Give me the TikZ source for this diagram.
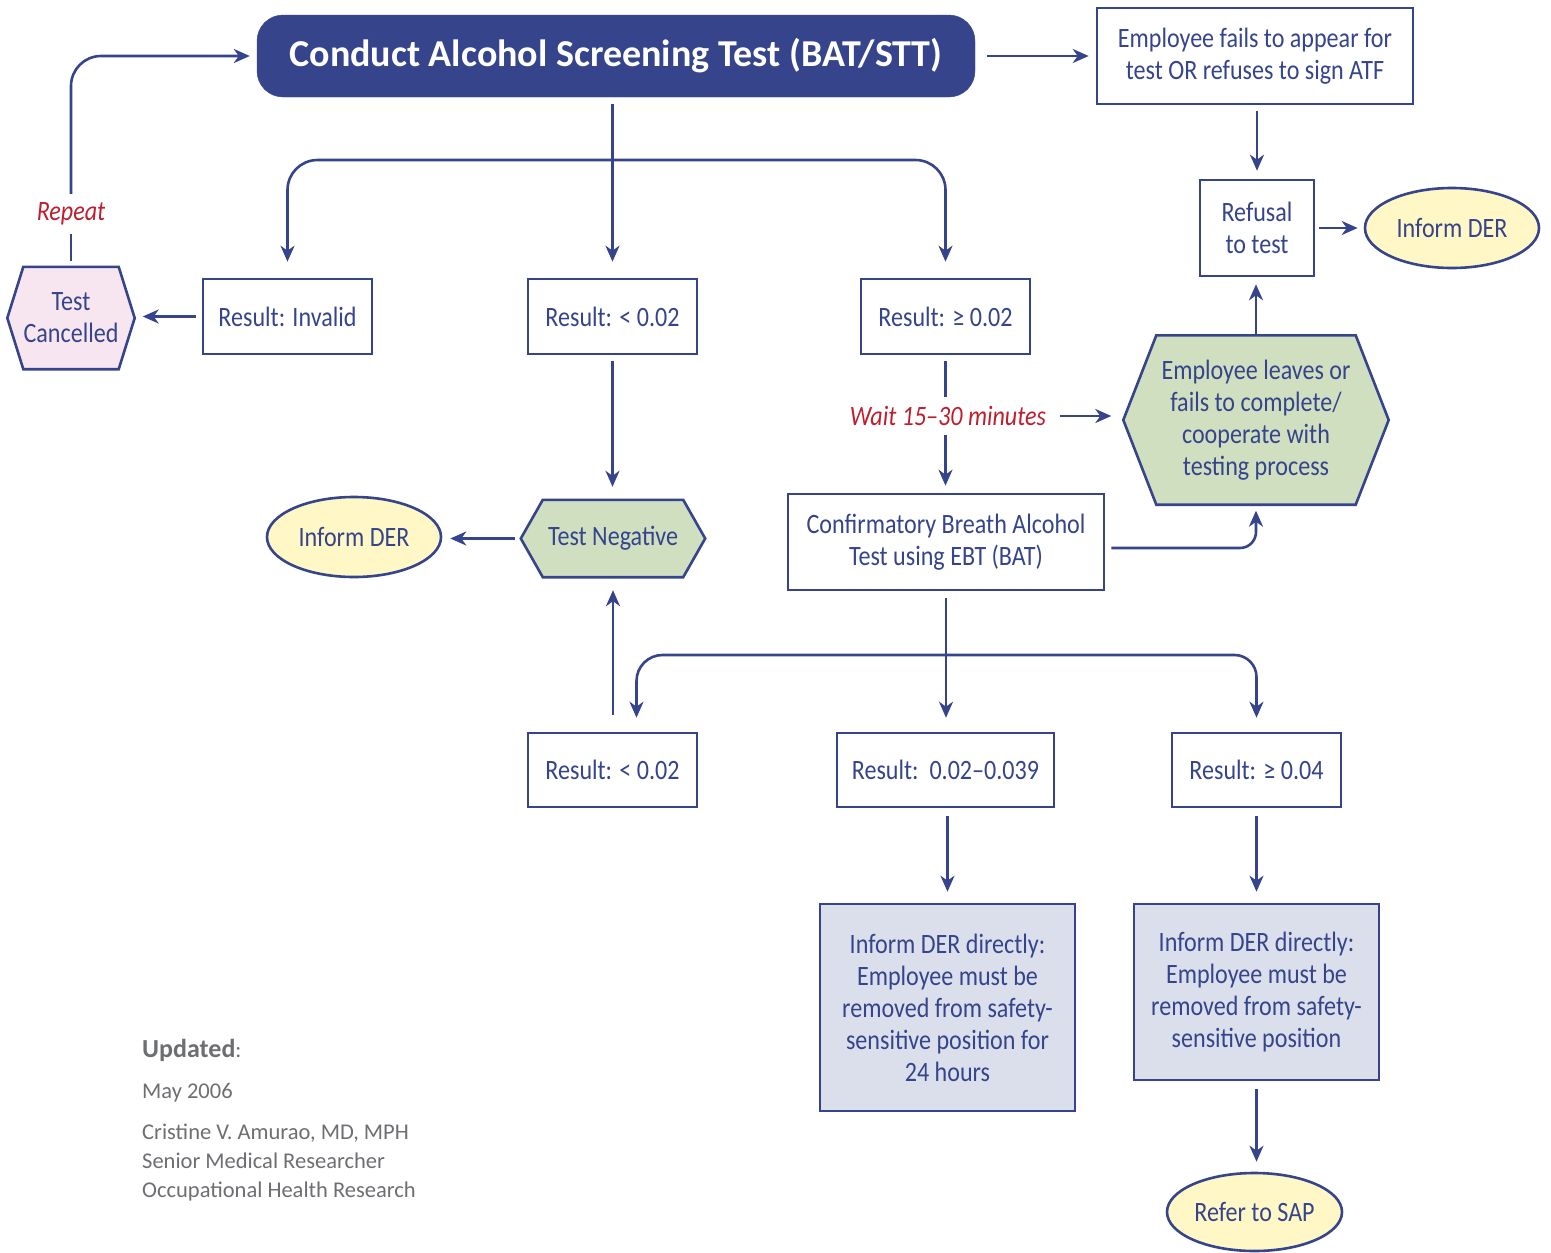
\documentclass[tikz,border=0pt]{standalone}
\usepackage{fontspec}
\setmainfont{Carlito}
\newfontfamily\condf[FakeStretch=0.86]{Carlito}
\usetikzlibrary{arrows.meta,shapes.geometric,backgrounds,calc}
\definecolor{navy}{RGB}{53,68,139}
\definecolor{yellowf}{RGB}{255,248,198}
\definecolor{greenf}{RGB}{208,223,192}
\definecolor{pinkf}{RGB}{247,230,239}
\definecolor{lavf}{RGB}{219,223,236}
\definecolor{redt}{RGB}{190,30,45}
\definecolor{grayt}{RGB}{109,110,113}
\newcommand{\hexshape}[3]{%
  \begin{scope}[on background layer]
    \filldraw[draw=navy, line width=2.6pt, line join=miter, fill=#3]
      (#1.west) -- ([xshift=#2]#1.north west) -- ([xshift=-#2]#1.north east)
      -- (#1.east) -- ([xshift=-#2]#1.south east) -- ([xshift=#2]#1.south west) -- cycle;
  \end{scope}}
\begin{document}
\begin{tikzpicture}[x=1pt,y=-1pt,
  base/.style={text=navy, font=\condf\fontsize{28}{32}\selectfont, align=center, inner sep=0pt},
  box/.style={base, draw=navy, line width=2.6pt, fill=white},
  lavbox/.style={box, fill=lavf},
  oval/.style={base, ellipse, draw=navy, line width=2.6pt, fill=yellowf},
  hexbox/.style={base},
  titlebox/.style={rounded corners=26pt, fill=navy, draw=navy, text=white,
     font=\bfseries\fontsize{38}{44}\selectfont, inner sep=0pt},
  note/.style={text=redt, font=\condf\itshape\fontsize{28}{32}\selectfont, inner sep=0pt},
  foot/.style={text=grayt, font=\fontsize{22.5}{26}\selectfont, inner sep=0pt, anchor=base west},
  ln/.style={draw=navy, line width=2.6pt},
  arr/.style={ln, -{Stealth[length=16pt,width=14pt,inset=5pt]}},
]
\useasboundingbox (0,0) rectangle (1551,1253);

% nodes
\node[titlebox, minimum width=718pt, minimum height=82pt] (title) at (616,56) {Conduct Alcohol Screening Test (BAT/STT)};
\node[box, minimum width=316pt, minimum height=96pt] (fail) at (1255,56) {Employee fails to appear for\\test OR refuses to sign ATF};
\node[box, minimum width=114pt, minimum height=96pt] (ref) at (1257,228) {Refusal\\to test};
\node[oval, minimum width=174pt, minimum height=80pt] (der1) at (1452,228) {Inform DER};
\node[hexbox, minimum width=265pt, minimum height=169pt] (hex) at (1256,420) {Employee leaves or\\fails to complete/\\cooperate with\\testing process};
\hexshape{hex}{33pt}{greenf}

\node[box, minimum width=169pt, minimum height=75pt] (inv) at (287.5,316.5) {Result: Invalid};
\node[box, minimum width=169pt, minimum height=75pt] (lt) at (612.5,316.5) {Result: < 0.02};
\node[box, minimum width=169pt, minimum height=75pt] (gt) at (945.5,316.5) {Result: ≥ 0.02};
\node[hexbox, minimum width=127pt, minimum height=102pt] (tc) at (71,318) {Test\\Cancelled};
\hexshape{tc}{16pt}{pinkf}
\node[note, minimum height=40pt] (rep) at (71,214) {Repeat};

\node[hexbox, minimum width=184pt, minimum height=77pt] (neg) at (613,538.5) {Test Negative};
\hexshape{neg}{22pt}{greenf}
\node[oval, minimum width=174pt, minimum height=80pt] (der2) at (354,537) {Inform DER};

\node[note, minimum height=38pt] (wait) at (948,416) {Wait 15–30 minutes};
\node[box, minimum width=316pt, minimum height=96pt] (conf) at (946,542) {Confirmatory Breath Alcohol\\Test using EBT (BAT)};

\node[box, minimum width=169pt, minimum height=74pt] (r1) at (612.5,770) {Result: < 0.02};
\node[box, minimum width=217pt, minimum height=74pt] (r2) at (945.5,770) {Result:\ \ 0.02–0.039};
\node[box, minimum width=169pt, minimum height=74pt] (r3) at (1256.5,770) {Result: ≥ 0.04};

\node[lavbox, minimum width=255pt, minimum height=207pt] (d24) at (947.5,1007.5) {Inform DER directly:\\Employee must be\\removed from safety-\\sensitive position for\\24 hours};
\node[lavbox, minimum width=245pt, minimum height=176pt] (dpos) at (1256.5,992) {Inform DER directly:\\Employee must be\\removed from safety-\\sensitive position};
\node[oval, minimum width=175pt, minimum height=78pt] (sap) at (1254.5,1212) {Refer to SAP};

\node[foot] (upd) at (142,1057) {{\fontsize{26}{30}\selectfont\textbf{Updated}}:};
\node[foot] (may) at (142,1098) {May 2006};
\node[foot] (au1) at (142,1139) {Cristine V. Amurao, MD, MPH};
\node[foot] (au2) at (142,1168) {Senior Medical Researcher};
\node[foot] (au3) at (142,1197) {Occupational Health Research};

\coordinate (b1) at (615,160);
\coordinate (b2) at (946,655);

% connectors
\draw[arr, shorten <=12pt, shorten >=7pt] (title.east) -- (fail.west);
\draw[arr, shorten <=6pt, shorten >=8pt] (fail.south -| ref.north) -- (ref.north);
\draw[arr, shorten <=4pt, shorten >=6pt] (ref.east) -- (ref.east -| der1.west);
\draw[arr, shorten >=7pt] (hex.north) -- (hex.north |- ref.south);
\draw[arr, shorten <=7pt, shorten >=16pt] (title.south -| lt.north) -- (lt.north);
\draw[arr, rounded corners=30pt, shorten >=16pt] (b1) -| (inv.north);
\draw[arr, rounded corners=30pt, shorten >=16pt] (b1) -| (gt.north);
\draw[arr, shorten <=6pt, shorten >=8pt] (inv.west) -- (inv.west -| tc.east);
\draw[ln, shorten <=6pt] (tc.north) -- (rep.south);
\draw[arr, rounded corners=30pt, shorten >=7pt] (rep.north) |- (title.west);
\draw[arr, shorten <=6pt, shorten >=13pt] (lt.south) -- (lt.south |- neg.north);
\draw[arr, shorten <=6pt, shorten >=8pt] (neg.west) -- (neg.west -| der2.east);
\draw[ln, shorten <=6pt] (gt.south) -- (gt.south |- wait.north);
\draw[arr, shorten >=7pt] (gt.south |- wait.south) -- (gt.south |- conf.north);
\draw[arr, shorten <=14pt, shorten >=12pt] (wait.east) -- (wait.east -| hex.west);
\draw[arr, rounded corners=16pt, shorten <=6pt, shorten >=6pt] ([yshift=-6pt]conf.east) -| (hex.south);
\draw[arr, shorten <=7pt, shorten >=14pt] (conf.south) -- (conf.south |- r2.north);
\draw[arr, rounded corners=26pt, shorten >=14pt] (b2) -| ([xshift=24pt]r1.north);
\draw[arr, rounded corners=22pt, shorten >=14pt] (b2) -| (r3.north);
\draw[arr, shorten <=17pt, shorten >=13pt] (r1.north -| neg.south) -- (neg.south);
\draw[arr, shorten <=8pt, shorten >=11pt] (r2.south -| d24.north) -- (d24.north);
\draw[arr, shorten <=8pt, shorten >=11pt] (r3.south) -- (r3.south |- dpos.north);
\draw[arr, shorten <=8pt, shorten >=10pt] (dpos.south) -- (dpos.south |- sap.north);
\end{tikzpicture}
\end{document}
